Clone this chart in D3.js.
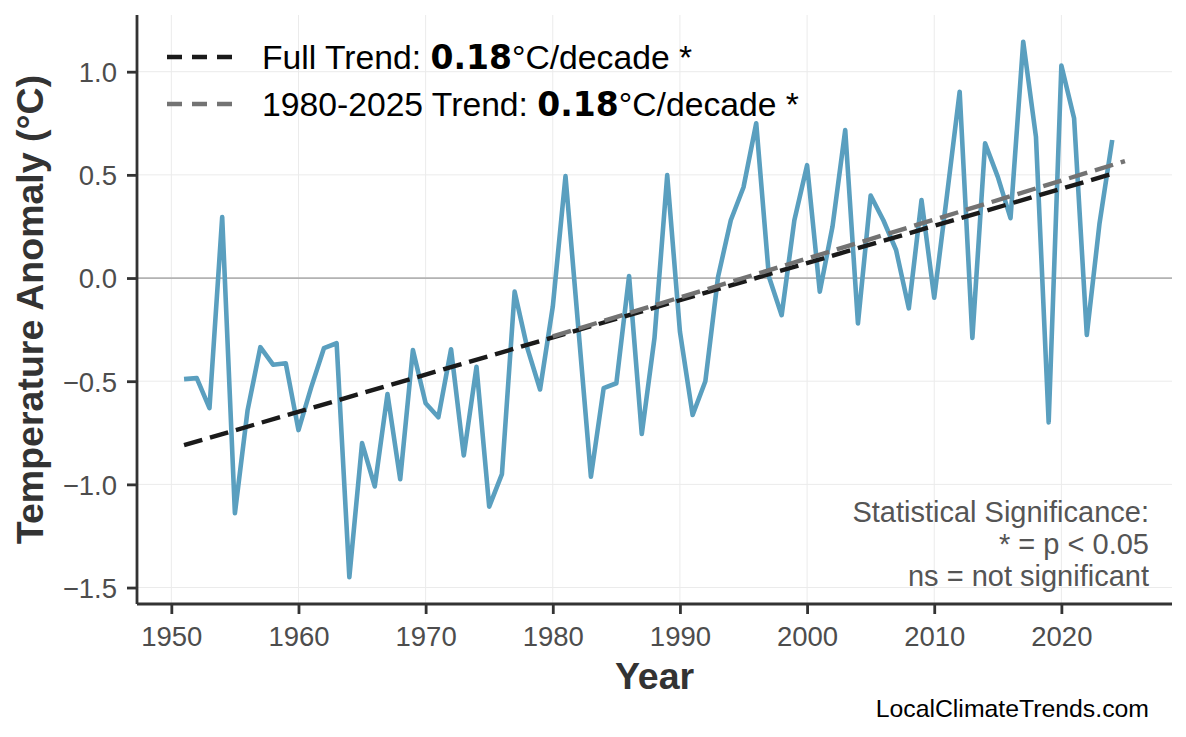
<!DOCTYPE html>
<html>
<head>
<meta charset="utf-8">
<script src="https://cdn.jsdelivr.net/npm/d3@7"></script>
<style>
  html, body { margin: 0; padding: 0; background: #fff; }
  svg { display: block; }
</style>
</head>
<body>
<svg id="chart" width="1186" height="737"></svg>
<script>
// ---------------- DATA ----------------
const years = d3.range(1951, 2025);
const anomalies = [
  -0.49, -0.485, -0.63, 0.295, -1.14, -0.64, -0.335, -0.42, -0.413, -0.737,
  -0.53, -0.34, -0.316, -1.45, -0.80, -1.01, -0.562, -0.975, -0.349, -0.607,
  -0.675, -0.345, -0.86, -0.43, -1.108, -0.95, -0.066, -0.34, -0.54, -0.139,
  0.494, -0.235, -0.963, -0.534, -0.51, 0.01, -0.756, -0.29, 0.499, -0.26,
  -0.664, -0.50, 0.006, 0.28, 0.44, 0.75, 0.006, -0.18, 0.28, 0.547,
  -0.066, 0.25, 0.717, -0.22, 0.40, 0.28, 0.136, -0.147, 0.378, -0.095,
  0.40, 0.903, -0.29, 0.653, 0.49, 0.29, 1.145, 0.685, -0.70, 1.03,
  0.774, -0.276, 0.265, 0.669
];
const xTicks = [1950, 1960, 1970, 1980, 1990, 2000, 2010, 2020];
const yTicks = [-1.5, -1.0, -0.5, 0.0, 0.5, 1.0];
const trendNames = ["Full Trend: ", "1980-2025 Trend: "];
const trendRates = ["0.18", "0.18"];
const trendSig = ["*", "*"];
const recentStart = 1980, recentEnd = 2025;
const noteLines = ["Statistical Significance:", "* = p < 0.05", "ns = not significant"];
const sourceText = "LocalClimateTrends.com";

// ---------------- LAYOUT ----------------
const svg = d3.select("#chart");
const P = { left: 137, right: 1172, top: 15, bottom: 604 };
const data = years.map((y, i) => ({ year: y, value: anomalies[i] }));

function linfit(pts) {
  const mx = d3.mean(pts, d => d.year), my = d3.mean(pts, d => d.value);
  let sxy = 0, sxx = 0;
  pts.forEach(d => { sxy += (d.year - mx) * (d.value - my); sxx += (d.year - mx) ** 2; });
  const b = sxy / sxx;
  return x => my + b * (x - mx);
}
const fFull = linfit(data);
const fRecent = linfit(data.filter(d => d.year >= recentStart));
const fullLine = [years[0], years[years.length - 1]].map(x => ({ year: x, value: fFull(x) }));
const recentLine = [recentStart, recentEnd].map(x => ({ year: x, value: fRecent(x) }));

const xMin = years[0], xMax = recentEnd;
const xPad = (xMax - xMin) * 0.05;
const yMin = d3.min(anomalies), yMax = d3.max(anomalies);
const yPad = (yMax - yMin) * 0.05;
const x = d3.scaleLinear().domain([xMin - xPad, xMax + xPad]).range([P.left, P.right]);
const y = d3.scaleLinear().domain([yMin - yPad, yMax + yPad]).range([P.bottom, P.top]);

// grid
const grid = svg.append("g");
grid.selectAll(".gx").data(xTicks).enter().append("line")
  .attr("x1", d => x(d)).attr("x2", d => x(d))
  .attr("y1", P.top).attr("y2", P.bottom)
  .attr("stroke", "#ebebeb").attr("stroke-width", 1);
grid.selectAll(".gy").data(yTicks).enter().append("line")
  .attr("x1", P.left).attr("x2", P.right)
  .attr("y1", d => y(d)).attr("y2", d => y(d))
  .attr("stroke", "#ebebeb").attr("stroke-width", 1);
// zero line
svg.append("line")
  .attr("x1", P.left).attr("x2", P.right)
  .attr("y1", y(0)).attr("y2", y(0))
  .attr("stroke", "#b3b3b3").attr("stroke-width", 1.8);

// data line
const line = d3.line().x(d => x(d.year)).y(d => y(d.value));
svg.append("path").datum(data)
  .attr("d", line)
  .attr("fill", "none")
  .attr("stroke", "#5a9fbf")
  .attr("stroke-width", 4.6)
  .attr("stroke-linejoin", "round");

// trends
svg.append("path").datum(fullLine).attr("d", line)
  .attr("fill", "none").attr("stroke", "#1a1a1a").attr("stroke-width", 4.4)
  .attr("stroke-dasharray", "19,8");
svg.append("path").datum(recentLine).attr("d", line)
  .attr("fill", "none").attr("stroke", "#737373").attr("stroke-width", 4.4)
  .attr("stroke-dasharray", "19,8");

// axes
const xAxis = d3.axisBottom(x).tickValues(xTicks).tickFormat(d3.format("d")).tickSize(10).tickSizeOuter(0);
const yAxis = d3.axisLeft(y).tickValues(yTicks).tickFormat(d3.format(".1f")).tickSize(10).tickSizeOuter(0);

const gx = svg.append("g").attr("transform", `translate(0,${P.bottom})`).call(xAxis);
const gy = svg.append("g").attr("transform", `translate(${P.left},0)`).call(yAxis);
[gx, gy].forEach(g => {
  g.select(".domain").attr("stroke", "#333333").attr("stroke-width", 2.8);
  g.selectAll(".tick line").attr("stroke", "#333333").attr("stroke-width", 2.8);
  g.selectAll(".tick text")
    .attr("fill", "#4d4d4d")
    .attr("font-family", "'Liberation Sans', Arial, sans-serif")
    .attr("font-size", 27.5);
});
gx.select(".domain").attr("d", `M${P.left},0H${P.right}`);
gy.select(".domain").attr("d", `M0,${P.bottom}V${P.top}`);
gx.selectAll(".tick text").attr("y", 0).attr("dy", 0).attr("transform", "translate(0,42)");
gy.selectAll(".tick text").attr("x", -20).attr("dy", "0.36em");

// axis titles
svg.append("text")
  .attr("x", (P.left + P.right) / 2).attr("y", 689)
  .attr("text-anchor", "middle")
  .attr("font-family", "'Liberation Sans', Arial, sans-serif")
  .attr("font-weight", "bold").attr("font-size", 37.5).attr("fill", "#333333")
  .text("Year");
svg.append("text")
  .attr("transform", `translate(43,${(P.top + P.bottom) / 2}) rotate(-90)`)
  .attr("text-anchor", "middle")
  .attr("font-family", "'Liberation Sans', Arial, sans-serif")
  .attr("font-weight", "bold").attr("font-size", 37.5).attr("fill", "#333333")
  .text("Temperature Anomaly (°C)");

// legend
const legColors = ["#1a1a1a", "#737373"];
const legend = svg.append("g");
trendNames.forEach((name, i) => {
  const cy = 57 + i * 47;
  legend.append("line")
    .attr("x1", 167).attr("x2", 234).attr("y1", cy).attr("y2", cy)
    .attr("stroke", legColors[i]).attr("stroke-width", 4.4)
    .attr("stroke-dasharray", "15,10");
  const t = legend.append("text")
    .attr("x", 262).attr("y", cy + 12)
    .attr("font-family", "'Liberation Sans', Arial, sans-serif")
    .attr("font-size", 33.7).attr("fill", "#000");
  t.append("tspan").text(name);
  t.append("tspan").attr("font-family", "'DejaVu Sans', Verdana, sans-serif")
    .attr("font-weight", "bold").attr("font-size", 33).text(trendRates[i]);
  t.append("tspan").text("°C/decade " + trendSig[i]);
});

// significance note
const note = svg.append("text")
  .attr("text-anchor", "end")
  .attr("font-family", "'Liberation Sans', Arial, sans-serif")
  .attr("font-size", 29).attr("fill", "#555555");
noteLines.forEach((l, i) => {
  note.append("tspan").attr("x", 1149).attr("y", 522 + i * 32).text(l);
});

// source
svg.append("text")
  .attr("x", 1149).attr("y", 717)
  .attr("text-anchor", "end")
  .attr("font-family", "'Liberation Sans', Arial, sans-serif")
  .attr("font-size", 24.8).attr("fill", "#000")
  .text(sourceText);
</script>
</body>
</html>
